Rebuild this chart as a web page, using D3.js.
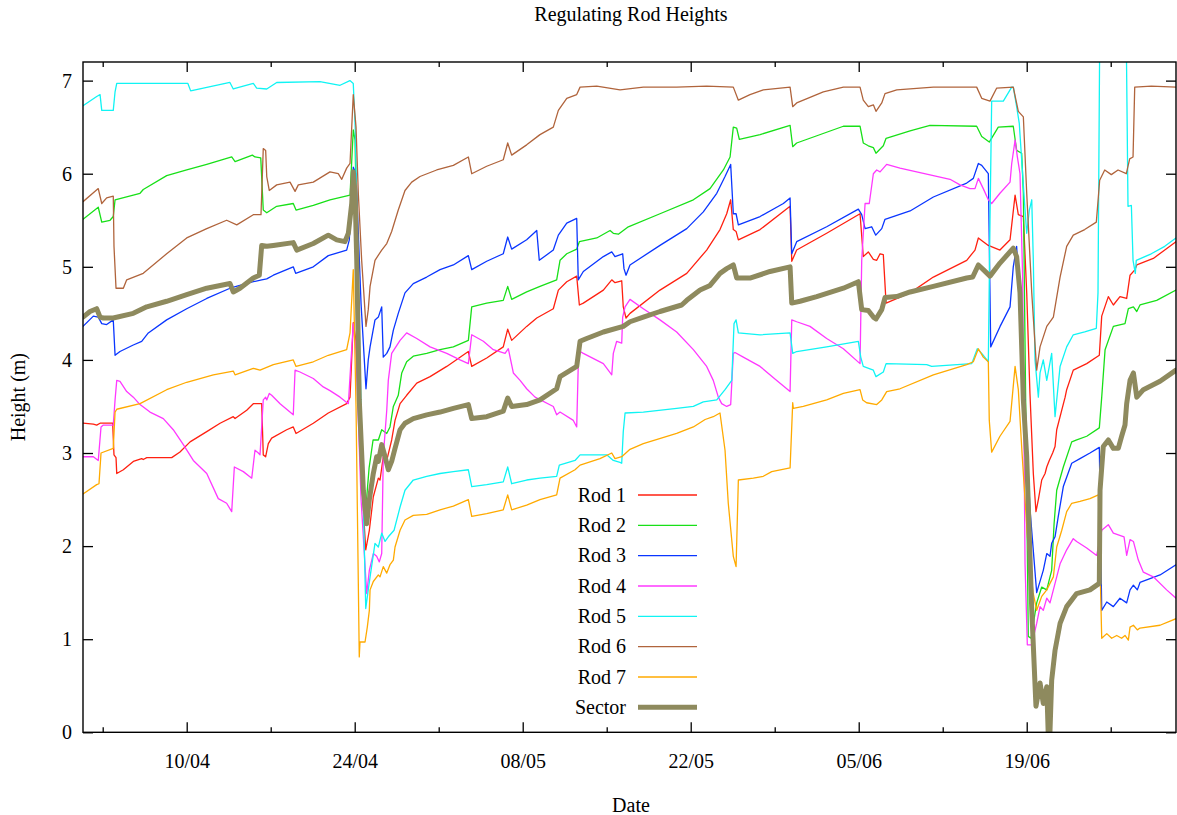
<!DOCTYPE html>
<html><head><meta charset="utf-8">
<script src="https://cdn.jsdelivr.net/npm/d3@7"></script>
<style>html,body{margin:0;padding:0;background:#fff;}svg{display:block;}</style>
</head><body>
<svg id="chart" width="1177" height="815"></svg>
<script>
// ---- data: [day offset from 01/04, height in m] ----
const baseDate = Date.UTC(2013, 3, 1);
const xDomainDays = [0.358, 91.44];
const yDomain = [0, 7.2];
const yTicks = [0, 1, 2, 3, 4, 5, 6, 7];
const majorTickDays = [9, 23, 37, 51, 65, 79];
const minorTickDays = [2, 16, 30, 44, 58, 72, 86];
const seriesNames = ["Rod 1", "Rod 2", "Rod 3", "Rod 4", "Rod 5", "Rod 6", "Rod 7", "Sector"];
const seriesColors = ["#ff2010", "#18e018", "#0a36ff", "#ff38ff", "#10f4f4", "#b0643c", "#ffaa00", "#8e8a5e"];

const rod1 = [[0.36,3.32],[1.22,3.31],[1.5,3.30],[1.78,3.32],[2.83,3.32],[2.94,2.98],[3.11,2.95],[3.17,2.78],[3.72,2.82],[4.55,2.91],[5.25,2.94],[5.38,2.93],[5.67,2.95],[7.75,2.95],[8.44,3.01],[9.28,3.12],[10.67,3.23],[11.78,3.32],[12.88,3.39],[13.03,3.37],[14.0,3.46],[14.55,3.53],[15.25,3.53],[15.38,2.98],[15.58,2.96],[15.8,3.10],[16.08,3.16],[17.33,3.25],[17.88,3.28],[18.11,3.21],[19.55,3.32],[20.8,3.43],[22.33,3.53],[22.61,3.60],[22.88,4.40],[23.11,4.2],[23.53,2.8],[23.92,1.96],[24.22,2.17],[24.55,2.53],[24.97,2.73],[25.11,2.71],[25.38,2.96],[25.67,2.92],[26.08,3.14],[26.36,3.35],[26.78,3.53],[27.33,3.62],[28.17,3.75],[29.28,3.82],[30.67,3.93],[32.47,4.09],[32.75,3.93],[34.0,4.02],[35.38,4.14],[35.75,4.33],[36.08,4.21],[37.33,4.36],[38.17,4.45],[39.55,4.55],[39.97,4.75],[40.67,4.84],[41.5,4.90],[41.72,4.59],[42.05,4.61],[43.72,4.75],[44.42,4.86],[44.69,4.83],[45.25,4.85],[45.38,4.57],[45.61,4.45],[45.94,4.50],[48.44,4.75],[50.67,4.93],[52.33,5.18],[53.44,5.40],[54.0,5.57],[54.33,5.72],[54.55,5.40],[54.78,5.38],[54.97,5.29],[56.78,5.40],[59.28,5.65],[59.42,5.06],[59.83,5.18],[62.33,5.36],[65.11,5.57],[65.38,5.11],[65.8,5.16],[66.22,5.08],[66.5,5.07],[66.78,5.14],[67.05,5.13],[67.28,4.61],[69.28,4.72],[71.22,4.89],[74.0,5.07],[74.69,5.18],[74.97,5.31],[75.38,5.27],[75.8,5.23],[76.77,5.18],[77.61,5.29],[78.03,5.77],[78.3,5.56],[78.72,5.54],[79.0,4.72],[79.27,3.64],[79.55,2.78],[79.77,2.37],[79.97,2.50],[80.25,2.71],[80.53,2.78],[80.67,2.85],[80.88,2.92],[81.16,3.0],[81.36,3.07],[81.5,3.25],[81.92,3.46],[82.2,3.60],[82.33,3.68],[82.88,3.89],[84.0,3.96],[85.05,4.05],[85.25,4.47],[85.8,4.68],[86.22,4.59],[86.77,4.68],[87.33,4.66],[87.61,4.91],[88.03,4.97],[88.17,5.02],[89.55,5.09],[91.44,5.27]];

const rod2 = [[0.36,5.51],[1.63,5.64],[1.92,5.48],[2.61,5.50],[2.88,5.54],[3.03,5.72],[4.55,5.77],[5.11,5.79],[5.38,5.83],[7.33,5.98],[9.0,6.04],[10.67,6.10],[12.75,6.18],[13.03,6.13],[14.47,6.20],[14.69,6.18],[15.17,6.17],[15.38,5.61],[15.67,5.58],[16.5,5.65],[17.88,5.68],[18.11,5.61],[19.55,5.66],[20.94,5.72],[22.61,5.77],[22.88,6.47],[23.03,6.36],[23.28,4.5],[23.61,2.6],[23.86,2.3],[24.2,2.84],[24.53,3.14],[24.97,3.14],[25.25,3.25],[25.67,3.21],[25.94,3.28],[26.22,3.50],[26.63,3.62],[26.92,3.86],[27.33,3.98],[27.88,4.04],[29.0,4.07],[30.11,4.11],[31.22,4.14],[32.47,4.21],[32.75,4.57],[34.0,4.61],[35.38,4.64],[35.75,4.79],[36.08,4.65],[37.33,4.73],[38.44,4.79],[39.83,4.86],[40.11,5.07],[40.67,5.14],[41.5,5.19],[41.72,5.27],[43.17,5.31],[44.28,5.39],[44.55,5.36],[44.97,5.35],[45.8,5.43],[48.44,5.57],[51.22,5.72],[52.61,5.84],[53.72,6.04],[54.28,6.18],[54.55,6.50],[54.83,6.49],[55.05,6.37],[56.78,6.42],[59.28,6.52],[59.5,6.29],[59.83,6.33],[63.72,6.51],[65.11,6.51],[65.38,6.33],[65.8,6.30],[66.22,6.28],[66.44,6.22],[67.05,6.30],[67.28,6.38],[69.28,6.46],[70.94,6.52],[74.83,6.51],[75.25,6.40],[75.88,6.34],[76.63,6.50],[77.88,6.51],[78.16,6.25],[78.58,6.22],[78.72,5.79],[79.13,1.03],[79.36,1.01],[79.83,1.39],[80.25,1.56],[80.67,1.53],[80.94,1.67],[81.08,1.74],[81.28,2.24],[81.5,2.60],[82.05,2.85],[82.75,3.12],[83.17,3.14],[84.0,3.18],[85.05,3.27],[85.25,3.60],[85.53,4.11],[86.22,4.36],[87.19,4.39],[87.47,4.55],[87.89,4.57],[88.17,4.52],[88.44,4.59],[89.83,4.64],[91.44,4.75]];

const rod3 = [[0.36,4.36],[1.22,4.47],[1.63,4.46],[1.92,4.39],[2.33,4.38],[2.88,4.43],[3.03,4.05],[3.44,4.09],[4.55,4.16],[5.25,4.20],[5.8,4.29],[7.33,4.43],[9.0,4.55],[10.67,4.66],[12.61,4.77],[14.55,4.84],[15.25,4.86],[15.67,4.87],[16.22,4.91],[17.88,5.0],[18.08,4.93],[19.55,5.0],[20.8,5.12],[22.33,5.18],[22.55,5.29],[22.88,6.07],[23.11,6.00],[23.53,4.6],[23.94,3.69],[24.13,4.0],[24.28,4.14],[24.69,4.43],[24.97,4.46],[25.25,4.57],[25.38,4.03],[25.67,4.07],[25.94,4.14],[26.22,4.32],[26.63,4.50],[27.19,4.72],[27.88,4.82],[29.0,4.89],[30.11,4.97],[31.22,5.02],[32.47,5.12],[32.75,4.97],[34.0,5.06],[35.38,5.14],[35.75,5.32],[36.08,5.19],[37.33,5.29],[38.17,5.39],[38.38,5.07],[39.55,5.18],[39.97,5.34],[40.67,5.47],[41.5,5.52],[41.63,4.86],[42.05,4.95],[43.72,5.11],[44.42,5.16],[44.69,5.11],[45.33,5.14],[45.44,4.98],[45.61,4.91],[45.94,5.02],[48.44,5.23],[50.67,5.41],[52.05,5.59],[53.17,5.79],[53.86,5.97],[54.33,6.10],[54.55,5.57],[54.78,5.57],[54.97,5.45],[56.78,5.54],[58.72,5.68],[59.28,5.74],[59.42,5.14],[59.83,5.27],[62.33,5.43],[64.97,5.62],[65.25,5.56],[65.53,5.41],[66.08,5.43],[66.42,5.34],[66.92,5.41],[67.19,5.51],[69.28,5.60],[71.22,5.75],[74.0,5.90],[74.55,5.95],[74.97,6.11],[75.25,6.09],[75.8,6.00],[76.0,4.14],[76.78,4.36],[77.61,4.57],[77.88,5.0],[78.16,5.22],[78.61,4.2],[79.27,2.4],[79.83,1.5],[80.38,1.74],[80.67,1.92],[80.94,1.89],[81.08,2.03],[81.36,2.10],[81.63,2.32],[82.05,2.64],[82.75,2.89],[83.44,2.94],[84.27,3.0],[85.05,3.06],[85.25,1.31],[85.67,1.40],[86.22,1.35],[86.77,1.44],[87.33,1.39],[87.61,1.53],[87.89,1.58],[88.22,1.53],[88.44,1.61],[90.11,1.69],[91.44,1.80]];

const rod4 = [[0.36,2.96],[1.22,2.96],[1.63,2.92],[1.86,3.28],[2.05,3.30],[2.88,3.30],[3.03,3.57],[3.17,3.78],[3.44,3.77],[4.0,3.66],[4.55,3.60],[5.11,3.52],[5.94,3.44],[7.05,3.37],[7.88,3.25],[8.72,3.09],[9.55,2.92],[10.67,2.78],[11.63,2.51],[12.33,2.46],[12.75,2.37],[12.97,2.85],[13.72,2.80],[14.42,2.73],[14.69,3.03],[14.97,3.0],[15.11,2.98],[15.38,3.57],[15.58,3.60],[15.67,3.57],[15.88,3.64],[16.08,3.62],[16.78,3.53],[17.88,3.41],[18.03,3.89],[18.44,3.87],[19.55,3.80],[20.38,3.71],[20.94,3.67],[21.78,3.60],[22.47,3.53],[22.88,4.39],[23.11,4.1],[23.53,2.5],[24.0,1.49],[24.22,1.74],[24.55,1.92],[24.83,1.89],[25.05,1.83],[25.25,1.92],[25.38,2.96],[25.67,3.46],[25.8,3.78],[26.08,4.07],[26.78,4.21],[27.33,4.29],[28.17,4.23],[29.28,4.14],[30.67,4.07],[31.78,4.0],[32.47,3.96],[32.75,4.27],[33.72,4.20],[34.55,4.11],[35.53,4.07],[35.8,4.12],[36.22,3.86],[36.78,3.78],[37.33,3.69],[38.03,3.60],[39.55,3.50],[39.83,3.41],[40.11,3.44],[41.22,3.35],[41.5,3.28],[41.65,4.05],[41.78,4.09],[42.05,4.07],[43.72,3.96],[44.42,3.84],[44.55,4.07],[44.83,4.20],[45.25,4.18],[45.33,4.46],[45.53,4.57],[45.94,4.65],[47.05,4.55],[48.44,4.43],[49.83,4.30],[51.22,4.11],[52.33,3.93],[52.88,3.78],[53.3,3.60],[53.58,3.53],[54.0,3.50],[54.33,3.52],[54.55,4.07],[54.69,4.08],[55.38,4.03],[56.78,3.93],[58.17,3.78],[59.28,3.66],[59.42,4.43],[59.83,4.41],[60.94,4.36],[62.33,4.23],[63.72,4.12],[65.11,3.96],[65.25,5.07],[65.53,5.68],[65.88,5.68],[66.22,6.0],[66.5,6.04],[66.78,6.02],[67.33,6.10],[68.44,6.06],[71.22,5.98],[72.61,5.94],[73.44,5.88],[74.27,5.84],[74.69,5.84],[74.97,5.95],[75.38,5.84],[75.8,5.72],[76.08,5.68],[76.77,5.79],[77.61,5.91],[77.75,6.11],[78.03,6.36],[78.22,6.18],[78.44,6.0],[78.66,4.89],[78.86,1.81],[79.05,0.94],[79.41,0.94],[79.83,1.17],[80.11,1.35],[80.38,1.31],[80.67,1.44],[80.94,1.39],[81.22,1.53],[81.5,1.67],[81.78,1.81],[82.33,1.96],[82.88,2.08],[83.16,2.05],[84.0,1.98],[84.83,1.90],[85.25,2.17],[85.8,2.23],[86.22,2.14],[87.11,2.10],[87.33,1.90],[87.61,2.07],[87.89,2.05],[88.3,1.85],[88.72,1.72],[89.55,1.67],[90.66,1.53],[91.44,1.44]];

const rod5 = [[0.36,6.73],[1.5,6.83],[1.78,6.85],[1.92,6.68],[2.88,6.68],[3.03,6.88],[3.17,6.97],[9.1,6.97],[9.33,6.89],[12.6,6.98],[12.88,6.91],[14.55,6.97],[14.83,6.92],[15.67,6.91],[16.5,6.98],[20.1,6.99],[21.78,6.95],[22.6,7.0],[22.88,6.97],[23.04,6.5],[23.44,4.0],[23.92,1.33],[24.13,1.53],[24.28,1.67],[24.69,2.03],[24.97,1.99],[25.25,2.14],[25.53,2.05],[25.8,2.10],[26.28,2.17],[26.78,2.42],[27.19,2.6],[27.88,2.71],[29.0,2.75],[30.11,2.78],[31.22,2.80],[32.47,2.82],[32.75,2.64],[34.0,2.66],[35.38,2.69],[35.75,2.85],[36.08,2.67],[37.33,2.71],[38.44,2.73],[39.83,2.75],[40.05,2.87],[41.36,2.92],[41.78,2.98],[44.0,2.98],[44.55,2.92],[45.11,2.90],[45.25,2.89],[45.38,3.23],[45.53,3.43],[47.05,3.44],[49.83,3.48],[51.22,3.50],[52.05,3.55],[53.17,3.57],[53.86,3.68],[54.42,3.78],[54.61,4.39],[54.78,4.43],[54.97,4.29],[56.78,4.27],[59.28,4.29],[59.5,4.07],[59.83,4.09],[62.33,4.14],[64.97,4.20],[65.17,4.03],[65.38,3.93],[66.22,3.89],[66.44,3.82],[67.05,3.87],[67.28,3.96],[70.67,3.95],[71.08,3.93],[74.42,3.96],[74.88,4.12],[75.25,4.07],[75.8,3.98],[75.94,5.5],[76.08,6.78],[77.05,6.78],[77.75,6.93],[77.88,6.93],[78.16,6.72],[78.38,6.54],[78.58,6.15],[78.86,5.61],[79.0,5.36],[79.22,5.61],[79.42,5.72],[79.55,5.07],[79.69,4.0],[79.97,3.60],[80.11,3.86],[80.38,4.0],[80.67,3.78],[81.08,4.07],[81.36,3.39],[81.78,3.93],[82.33,4.14],[82.88,4.27],[83.83,4.30],[84.8,4.34],[84.94,4.72],[85.1,7.8],[87.27,7.8],[87.44,5.65],[87.72,5.66],[87.86,5.07],[88.05,4.93],[88.13,5.07],[89.38,5.14],[90.5,5.22],[91.44,5.31]];

const rod6 = [[0.36,5.70],[1.63,5.84],[1.92,5.68],[2.33,5.74],[2.88,5.76],[2.94,5.22],[3.11,4.77],[3.72,4.77],[4.0,4.86],[5.38,4.93],[7.33,5.14],[9.0,5.31],[10.67,5.41],[12.33,5.50],[13.17,5.45],[14.55,5.56],[15.19,5.56],[15.38,6.27],[15.58,6.25],[15.67,5.97],[15.88,5.82],[16.5,5.88],[17.61,5.91],[18.03,5.81],[18.3,5.88],[19.55,5.91],[20.94,6.02],[21.63,6.00],[21.92,5.94],[22.33,6.06],[22.61,6.11],[22.88,6.85],[23.11,6.50],[23.3,5.79],[23.58,5.07],[23.94,4.36],[24.13,4.54],[24.28,4.79],[24.69,5.07],[25.25,5.18],[25.67,5.25],[26.08,5.38],[26.63,5.61],[27.19,5.82],[27.75,5.91],[28.44,5.97],[29.83,6.04],[31.22,6.09],[32.47,6.18],[32.75,6.00],[34.0,6.08],[35.38,6.15],[35.75,6.33],[36.08,6.20],[37.33,6.31],[38.44,6.42],[39.55,6.50],[39.97,6.68],[40.67,6.81],[41.5,6.85],[41.78,6.93],[43.17,6.94],[45.11,6.90],[47.05,6.93],[49.83,6.93],[52.33,6.94],[54.55,6.93],[54.97,6.79],[55.94,6.85],[57.05,6.90],[59.28,6.93],[59.5,6.72],[59.83,6.76],[62.05,6.88],[63.72,6.93],[65.11,6.93],[65.38,6.79],[65.8,6.72],[66.22,6.74],[66.44,6.67],[66.92,6.76],[67.19,6.86],[68.17,6.90],[71.22,6.93],[74.83,6.93],[75.25,6.81],[75.94,6.78],[76.5,6.92],[77.88,6.93],[78.3,6.67],[78.72,6.61],[79.0,5.79],[79.42,4.72],[79.83,3.89],[80.11,4.14],[80.67,4.36],[81.22,4.46],[81.78,4.89],[82.33,5.22],[82.88,5.34],[83.83,5.40],[84.8,5.48],[85.08,5.93],[85.5,6.04],[86.05,5.99],[86.61,6.04],[87.3,6.00],[87.58,6.16],[87.86,6.18],[88.0,6.93],[89.38,6.94],[91.44,6.93]];

const rod7 = [[0.36,2.56],[1.5,2.66],[1.69,2.67],[1.86,3.0],[2.88,3.05],[3.03,3.44],[3.17,3.47],[5.11,3.53],[7.33,3.68],[9.0,3.76],[11.22,3.84],[12.88,3.88],[13.03,3.84],[14.55,3.91],[15.11,3.89],[16.22,3.95],[17.88,4.0],[18.11,3.93],[19.55,3.98],[20.8,4.05],[22.33,4.11],[22.61,4.29],[22.88,4.97],[23.11,3.5],[23.38,0.81],[23.44,0.97],[23.86,0.97],[24.05,1.13],[24.22,1.31],[24.28,1.53],[24.55,1.62],[24.97,1.69],[25.11,1.67],[25.38,1.78],[25.67,1.71],[25.94,1.80],[26.22,1.85],[26.36,1.99],[26.78,2.17],[27.19,2.28],[27.88,2.33],[29.0,2.34],[30.11,2.39],[31.22,2.43],[32.47,2.50],[32.75,2.32],[34.0,2.35],[35.38,2.39],[35.75,2.55],[36.08,2.39],[37.33,2.44],[38.44,2.50],[39.83,2.55],[40.11,2.73],[41.36,2.82],[41.78,2.87],[43.44,2.94],[44.42,3.0],[44.69,2.94],[45.25,2.96],[45.94,3.04],[47.05,3.10],[49.83,3.21],[51.22,3.28],[52.2,3.36],[52.88,3.39],[53.44,3.43],[53.86,3.03],[54.13,2.46],[54.55,1.89],[54.78,1.78],[54.97,2.71],[56.22,2.73],[57.05,2.75],[57.75,2.80],[59.28,2.84],[59.5,3.54],[59.55,3.48],[60.38,3.50],[62.33,3.57],[63.72,3.64],[65.11,3.68],[65.33,3.57],[65.66,3.54],[66.5,3.52],[66.92,3.57],[67.33,3.66],[68.44,3.69],[71.22,3.84],[74.0,3.95],[74.55,3.98],[74.97,4.12],[75.38,4.03],[75.8,3.98],[75.88,3.35],[76.08,3.01],[76.77,3.18],[77.61,3.34],[78.03,3.93],[78.3,3.68],[78.61,3.0],[79.11,2.0],[79.53,1.5],[79.83,1.31],[80.25,1.46],[80.67,1.53],[80.94,1.60],[81.22,1.67],[81.5,1.99],[81.92,2.17],[82.33,2.37],[82.75,2.46],[83.44,2.48],[84.27,2.51],[84.97,2.55],[85.25,1.01],[85.67,1.06],[86.08,1.01],[86.5,1.04],[86.91,1.01],[87.19,1.04],[87.47,0.99],[87.61,1.13],[87.89,1.15],[88.22,1.10],[88.44,1.12],[90.11,1.15],[91.44,1.22]];

const sector = [[0.36,4.46],[0.94,4.52],[1.5,4.55],[1.78,4.46],[2.05,4.45],[2.88,4.45],[4.55,4.50],[5.67,4.57],[7.33,4.63],[9.0,4.70],[10.67,4.77],[12.61,4.82],[12.88,4.73],[13.44,4.77],[14.55,4.88],[15.05,4.91],[15.25,5.23],[15.67,5.22],[16.22,5.23],[17.88,5.26],[18.17,5.18],[19.55,5.25],[20.8,5.34],[21.5,5.29],[22.19,5.27],[22.47,5.36],[22.75,5.68],[22.88,6.02],[23.03,5.79],[23.17,5.07],[23.38,3.57],[23.72,2.60],[24.0,2.24],[24.22,2.50],[24.55,2.78],[24.83,2.96],[24.97,2.91],[25.25,3.09],[25.53,2.96],[25.8,2.82],[26.08,2.91],[26.36,3.05],[26.78,3.25],[27.19,3.32],[27.88,3.37],[29.0,3.41],[30.11,3.44],[31.22,3.48],[32.47,3.52],[32.75,3.37],[34.0,3.39],[35.38,3.45],[35.75,3.59],[36.08,3.50],[37.33,3.52],[38.44,3.57],[39.83,3.69],[40.11,3.82],[41.5,3.93],[41.78,4.20],[42.33,4.23],[43.72,4.30],[45.38,4.36],[45.94,4.41],[47.05,4.46],[48.44,4.52],[50.25,4.59],[50.67,4.64],[51.78,4.75],[52.61,4.80],[53.44,4.93],[54.0,4.98],[54.55,5.02],[54.83,4.88],[56.0,4.88],[57.61,4.95],[59.28,5.0],[59.42,4.61],[60.11,4.63],[61.5,4.68],[63.72,4.77],[64.97,4.84],[65.25,4.54],[65.8,4.53],[66.22,4.46],[66.44,4.44],[66.92,4.54],[67.19,4.67],[68.17,4.68],[69.28,4.73],[71.22,4.79],[74.0,4.88],[74.5,4.89],[74.97,5.02],[75.38,4.97],[75.94,4.90],[76.77,5.04],[77.88,5.20],[78.16,5.11],[78.44,4.72],[78.72,3.57],[79.0,2.96],[79.41,1.35],[79.77,0.28],[80.11,0.53],[80.38,0.31],[80.67,0.49],[80.86,-0.3],[81.08,0.56],[81.36,0.88],[81.78,1.17],[82.33,1.35],[83.16,1.49],[84.27,1.53],[85.05,1.60],[85.11,2.60],[85.38,3.07],[85.8,3.14],[86.22,3.05],[86.63,3.05],[86.91,3.18],[87.19,3.30],[87.33,3.53],[87.61,3.78],[87.89,3.86],[88.17,3.60],[88.72,3.68],[90.11,3.77],[91.44,3.89]];

const seriesData = [rod1, rod2, rod3, rod4, rod5, rod6, rod7, sector];

// ---- layout ----
const plot = {left: 83, top: 62, right: 1176, bottom: 732.3};
const font = "'Liberation Serif', 'Times New Roman', serif";
const fs = 20;

const toDate = d => new Date(baseDate + d * 864e5);
const x = d3.scaleUtc().domain(xDomainDays.map(toDate)).range([plot.left, plot.right]);
const y = d3.scaleLinear().domain(yDomain).range([plot.bottom, plot.top]);
const fmt = d3.utcFormat("%d/%m");

const svg = d3.select("#chart");
svg.append("defs").append("clipPath").attr("id", "clip")
  .append("rect").attr("x", plot.left).attr("y", plot.top)
  .attr("width", plot.right - plot.left).attr("height", plot.bottom - plot.top);

// lines
const line = d3.line().x(p => x(toDate(p[0]))).y(p => y(p[1]));
const g = svg.append("g").attr("clip-path", "url(#clip)");
seriesData.forEach((data, i) => {
  g.append("path").datum(data)
    .attr("d", line)
    .attr("fill", "none")
    .attr("stroke", seriesColors[i])
    .attr("stroke-width", i === 7 ? 5 : 1.3)
    .attr("stroke-linejoin", "round")
    .attr("stroke-linecap", "round");
});

// axes (gnuplot style: inward ticks, mirrored)
const majorDates = majorTickDays.map(toDate);
const minorDates = minorTickDays.map(toDate);
const axG = svg.append("g").attr("font-family", font).attr("font-size", fs);

const xBottom = d3.axisBottom(x).tickValues(majorDates).tickFormat(fmt).tickSizeInner(-10).tickSizeOuter(0).tickPadding(36);
const xb = axG.append("g").attr("transform", `translate(0,${plot.bottom})`).call(xBottom);
const xBottomMinor = d3.axisBottom(x).tickValues(minorDates).tickFormat("").tickSizeInner(-5).tickSizeOuter(0);
const xbm = axG.append("g").attr("transform", `translate(0,${plot.bottom})`).call(xBottomMinor);
const xTop = d3.axisTop(x).tickValues(majorDates).tickFormat("").tickSizeInner(-10).tickSizeOuter(0);
const xt = axG.append("g").attr("transform", `translate(0,${plot.top})`).call(xTop);
const xTopMinor = d3.axisTop(x).tickValues(minorDates).tickFormat("").tickSizeInner(-5).tickSizeOuter(0);
const xtm = axG.append("g").attr("transform", `translate(0,${plot.top})`).call(xTopMinor);

const yLeft = d3.axisLeft(y).tickValues(yTicks).tickFormat(d3.format("d")).tickSizeInner(-10).tickSizeOuter(0).tickPadding(11);
const yl = axG.append("g").attr("transform", `translate(${plot.left},0)`).call(yLeft);
const yRight = d3.axisRight(y).tickValues(yTicks).tickFormat("").tickSizeInner(-10).tickSizeOuter(0);
const yr = axG.append("g").attr("transform", `translate(${plot.right},0)`).call(yRight);

[xb, xbm, xt, xtm, yl, yr].forEach(a => {
  a.select(".domain").remove();
  a.selectAll("line").attr("stroke", "#000").attr("stroke-width", 1.3);
  a.selectAll("text").attr("fill", "#000").attr("font-family", font).attr("font-size", fs);
});
xb.selectAll("text").attr("dy", "0");
yl.selectAll("text").attr("dy", "0.33em");

// border
svg.append("rect").attr("x", plot.left).attr("y", plot.top)
  .attr("width", plot.right - plot.left).attr("height", plot.bottom - plot.top)
  .attr("fill", "none").attr("stroke", "#000").attr("stroke-width", 1.4);

// titles
svg.append("text").attr("x", 631).attr("y", 21).attr("text-anchor", "middle")
  .attr("font-family", font).attr("font-size", fs).text("Regulating Rod Heights");
svg.append("text").attr("x", 631).attr("y", 812).attr("text-anchor", "middle")
  .attr("font-family", font).attr("font-size", fs).text("Date");
svg.append("text").attr("transform", `translate(25,${(plot.top + plot.bottom) / 2}) rotate(-90)`)
  .attr("text-anchor", "middle").attr("font-family", font).attr("font-size", fs).text("Height (m)");

// legend
const legend = svg.append("g").attr("font-family", font).attr("font-size", fs);
seriesNames.forEach((name, i) => {
  const ly = 495 + i * 30.33;
  legend.append("text").attr("x", 626).attr("y", ly).attr("dy", "0.33em")
    .attr("text-anchor", "end").text(name);
  legend.append("line").attr("x1", 638).attr("x2", 697).attr("y1", ly).attr("y2", ly)
    .attr("stroke", seriesColors[i]).attr("stroke-width", i === 7 ? 5 : 1.3);
});
</script>
</body></html>
